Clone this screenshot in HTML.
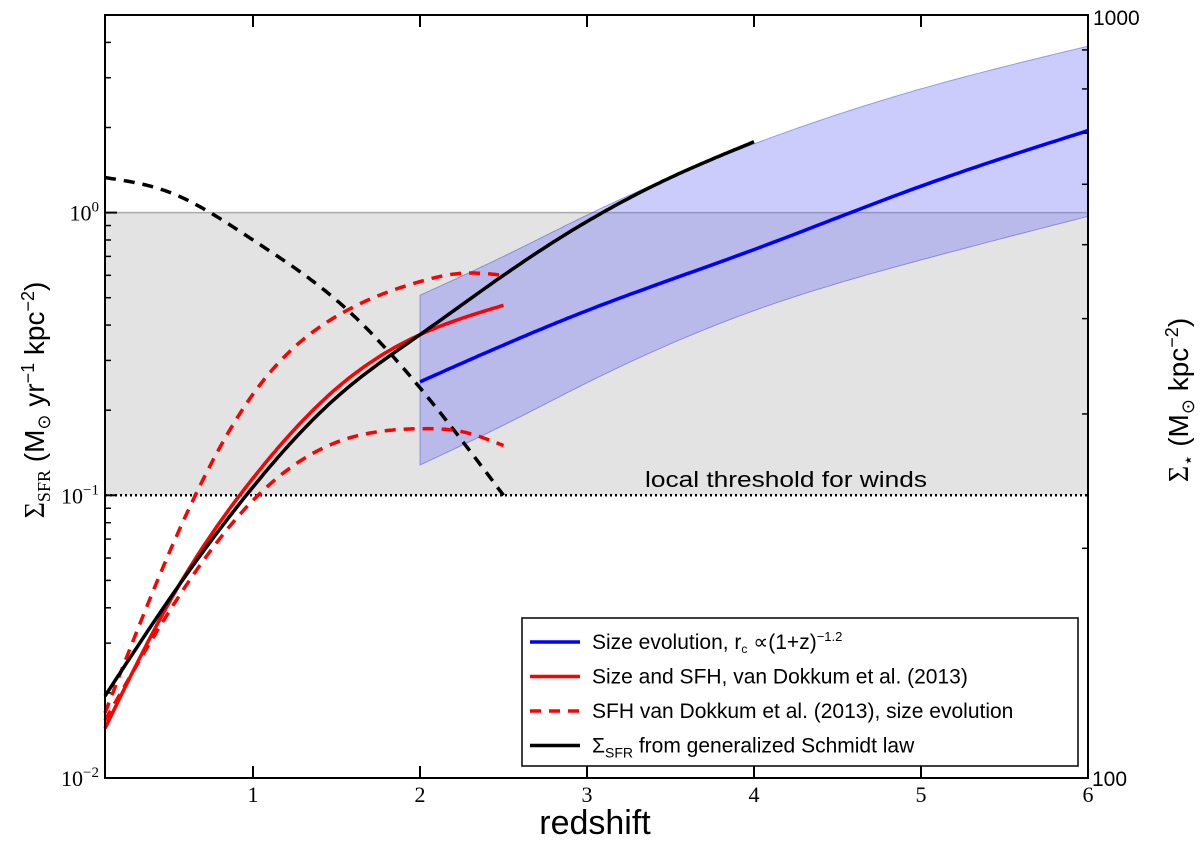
<!DOCTYPE html>
<html><head><meta charset="utf-8"><style>
body{margin:0;background:#fff}
svg text{font-family:"Liberation Sans",sans-serif}
.serif{font-family:"Liberation Serif",serif}
</style></head><body>
<svg id="chart" width="1200" height="837" xmlns="http://www.w3.org/2000/svg"></svg>
<script>
const bandZ=[2,2.5,3,4,5,6];
const blueVals=[0.252,0.34,0.45,0.74,1.24,1.95];
const bandUpper=[0.51,0.7,0.98,1.75,2.74,3.88];
const bandLower=[0.128,0.177,0.25,0.45,0.68,0.97];
const blackZ=[0.114,0.5,1,1.5,2,2.5,3,3.5,4];
const blackVals=[0.0195,0.043,0.107,0.222,0.37,0.6,0.93,1.33,1.78];
const redZ=[0.114,0.5,1,1.5,2,2.5];
const redVals=[0.015,0.042,0.115,0.239,0.37,0.47];
const redDashZ=[0.114,0.5,1,1.5,2,2.25,2.5];
const redDashUp=[0.017,0.063,0.228,0.43,0.57,0.61,0.6];
const redDashLo=[0.016,0.039,0.096,0.154,0.172,0.168,0.15];
const blackDashZ=[0.114,0.5,1,1.5,2,2.5];
const blackDashVals=[1.33,1.18,0.8,0.49,0.24,0.1];
const xTicks=[1,2,3,4,5,6];
const yTickExp=[-2,-1,0];

const L=105,R=1088,T=15,B=778;
const xmin=1-(253-105)/167,xmax=6,ymin=-2,ymax=Math.log10(5);
const X=z=>L+(z-xmin)/(xmax-xmin)*(R-L);
const Y=v=>B-(Math.log10(v)-ymin)/(ymax-ymin)*(B-T);
const svg=document.getElementById('chart');
const NS='http://www.w3.org/2000/svg';
function mk(tag,attrs,parent){const e=document.createElementNS(NS,tag);for(const k in attrs)e.setAttribute(k,attrs[k]);(parent||svg).appendChild(e);return e;}
function spline(xs,vs){
  const n=xs.length,ys=vs.map(v=>Math.log10(v));
  const h=[],a=[],l=[1],mu=[0],zz=[0],c=new Array(n).fill(0),b=[],d=[];
  for(let i=0;i<n-1;i++)h[i]=xs[i+1]-xs[i];
  for(let i=1;i<n-1;i++)a[i]=3/h[i]*(ys[i+1]-ys[i])-3/h[i-1]*(ys[i]-ys[i-1]);
  for(let i=1;i<n-1;i++){l[i]=2*(xs[i+1]-xs[i-1])-h[i-1]*mu[i-1];mu[i]=h[i]/l[i];zz[i]=(a[i]-h[i-1]*zz[i-1])/l[i];}
  for(let j=n-2;j>=0;j--){c[j]=(j>0?zz[j]:0)-mu[j]*c[j+1];b[j]=(ys[j+1]-ys[j])/h[j]-h[j]*(c[j+1]+2*c[j])/3;d[j]=(c[j+1]-c[j])/(3*h[j]);}
  const out=[];
  for(let j=0;j<n-1;j++){const steps=30;for(let s=(j?1:0);s<=steps;s++){const t=h[j]*s/steps;
    const y=ys[j]+b[j]*t+c[j]*t*t+d[j]*t*t*t;out.push([X(xs[j]+t),Y(Math.pow(10,y))]);}}
  return out;}
const toD=p=>'M'+p.map(q=>q[0].toFixed(1)+','+q[1].toFixed(1)).join(' L');
let e;
e=mk('rect',{x:L,y:Y(1),width:R-L,height:Y(0.1)-Y(1),fill:'#e3e3e3'});


e=mk('line',{x1:L,x2:R,y1:Y(1),y2:Y(1),stroke:'#aaa','stroke-width':1.5});


const up=spline(bandZ,bandUpper),lo=spline(bandZ,bandLower).reverse();
e=mk('path',{d:toD(up.concat(lo))+' Z',fill:'rgba(110,110,245,0.35)',stroke:'rgba(60,60,200,0.45)','stroke-width':1});


e=mk('line',{x1:L,x2:R,y1:Y(0.1),y2:Y(0.1),stroke:'#000','stroke-width':2.5,'stroke-dasharray':'2,3'});


e=mk('text',{x:645,y:487,'font-size':22,textLength:282,lengthAdjust:'spacingAndGlyphs'});e.textContent='local threshold for winds';


function line(xs,ys,color,dash){const a={d:toD(spline(xs,ys)),fill:'none',stroke:color,'stroke-width':3.5};if(dash)a['stroke-dasharray']=dash;return mk('path',a);}
e=line(blackDashZ,blackDashVals,'#000','11,8');


e=line(redDashZ,redDashUp,'#f00','11,8');


e=line(redDashZ,redDashLo,'#f00','11,8');


e=line(redZ,redVals,'#f00');


e=line(blackZ,blackVals,'#000');


e=line(bandZ,blueVals,'#00f');


e=mk('rect',{x:L,y:T,width:R-L,height:B-T,fill:'none',stroke:'#000','stroke-width':2});


xTicks.forEach(t=>{
  mk('line',{x1:X(t),x2:X(t),y1:B,y2:B-12,stroke:'#000','stroke-width':2});
  mk('line',{x1:X(t),x2:X(t),y1:T,y2:T+12,stroke:'#000','stroke-width':2});
  const tx=mk('text',{x:X(t),y:802,'font-size':22,'text-anchor':'middle',class:'serif'});tx.textContent=t;
  
  
});
yTickExp.forEach(p=>{
  const y=Y(Math.pow(10,p));
  mk('line',{x1:L,x2:L+12,y1:y,y2:y,stroke:'#000','stroke-width':2});
  const tx=mk('text',{x:L-6,y:y+8,'font-size':22,'text-anchor':'end',class:'serif'});
  tx.innerHTML='10<tspan dy="-9" font-size="15">'+(p<0?'−'+(-p):p)+'</tspan>';
  
  
  for(let m=2;m<=9;m++){const v=m*Math.pow(10,p);if(Math.log10(v)>ymax)break;const yy=Y(v);mk('line',{x1:L,x2:L+6,y1:yy,y2:yy,stroke:'#000','stroke-width':1.5});}
});
for(let m=2;m<=9;m++){const yy=B-Math.log10(m)*(B-T);mk('line',{x1:R,x2:R-6,y1:yy,y2:yy,stroke:'#000','stroke-width':1.5});}
e=mk('text',{x:R+4,y:B+8,'font-size':21});e.textContent='100';


e=mk('text',{x:R+5,y:T+10,'font-size':21});e.textContent='1000';


e=mk('text',{x:595,y:834,'font-size':34,'text-anchor':'middle'});e.textContent='redshift';


e=mk('text',{x:0,y:0,'font-size':28,'text-anchor':'middle',transform:'translate(44,400) rotate(-90)'});
e.innerHTML='<tspan class="serif">Σ</tspan><tspan class="serif" font-size="18" dy="6">SFR</tspan><tspan dy="-6"> (M</tspan><tspan font-size="18" dy="6">⊙</tspan><tspan dy="-6"> yr</tspan><tspan font-size="18" dy="-10">−1</tspan><tspan dy="10"> kpc</tspan><tspan font-size="18" dy="-10">−2</tspan><tspan dy="10">)</tspan>';


e=mk('text',{x:0,y:0,'font-size':28,'text-anchor':'middle',transform:'translate(1188,400) rotate(-90)'});
e.innerHTML='<tspan class="serif">Σ</tspan><tspan font-size="18" dy="6">⋆</tspan><tspan dy="-6"> (M</tspan><tspan font-size="18" dy="6">⊙</tspan><tspan dy="-6"> kpc</tspan><tspan font-size="18" dy="-10">−2</tspan><tspan dy="10">)</tspan>';


const lg=mk('g',{});


mk('rect',{x:522,y:618,width:556,height:148,fill:'#fff',stroke:'#000','stroke-width':1.5},lg);
const items=[['#00f',null,'Size evolution, r<tspan font-size="12" dy="4">c</tspan><tspan dy="-4"> ∝(1+z)</tspan><tspan font-size="13" dy="-8">−1.2</tspan>'],
['#f00',null,'Size and SFH, van Dokkum et al. (2013)'],
['#f00','11,8','SFH van Dokkum et al. (2013), size evolution'],
['#000',null,'Σ<tspan font-size="14" dy="5">SFR</tspan><tspan dy="-5"> from generalized Schmidt law</tspan>']];
items.forEach((it,i)=>{const y=642+i*34.5;
  const a={x1:530,x2:580,y1:y,y2:y,stroke:it[0],'stroke-width':3.5};if(it[1])a['stroke-dasharray']=it[1];mk('line',a,lg);
  const t=mk('text',{x:592,y:y+7,'font-size':21},lg);t.innerHTML=it[2];
  
  
});
</script>
</body></html>
